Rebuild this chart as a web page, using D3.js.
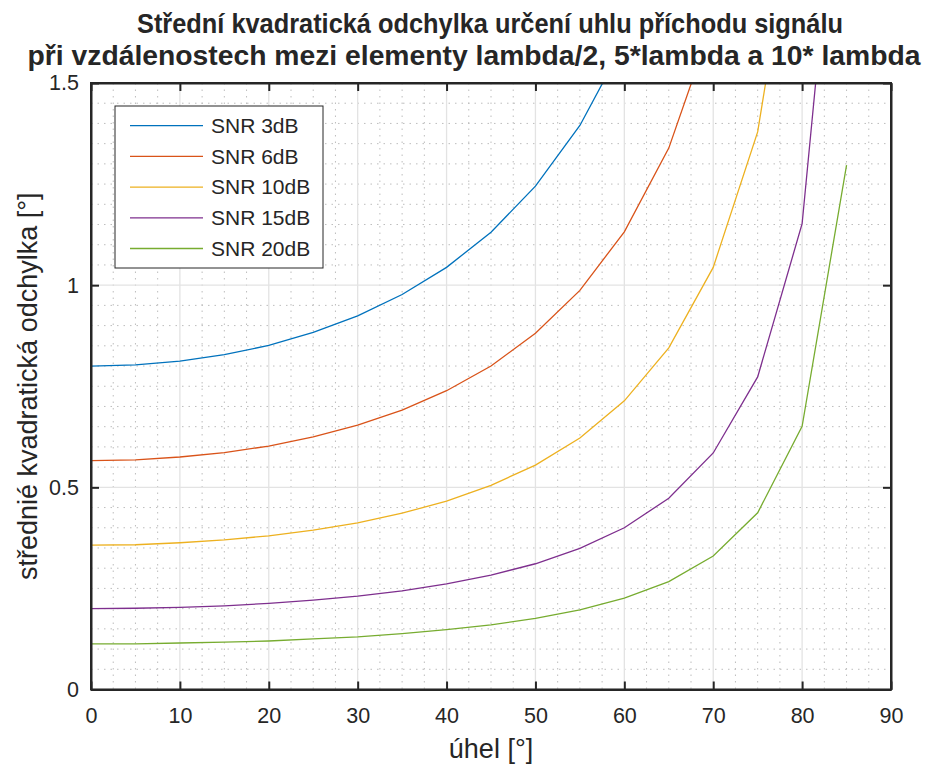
<!DOCTYPE html>
<html>
<head>
<meta charset="utf-8">
<script src="https://cdn.jsdelivr.net/npm/d3@7"></script>
<style>
body { margin: 0; background: #fff; }
text { font-family: "Liberation Sans", Arial, sans-serif; fill: #262626; }
</style>
</head>
<body>
<script>
// angles of arrival (deg)
var angles = [0, 5, 10, 15, 20, 25, 30, 35, 40, 45, 50, 55, 60, 65, 70, 75, 80, 85];

// RMS error (values above 1.5 are clipped, estimated)
var snr3  = [0.800, 0.803, 0.812, 0.828, 0.851, 0.883, 0.924, 0.977, 1.044, 1.131, 1.245, 1.395, 1.600, 1.893, 2.339, 3.091, 4.607, 9.179];
var snr6  = [0.566, 0.568, 0.575, 0.586, 0.602, 0.625, 0.654, 0.691, 0.739, 0.800, 0.881, 0.987, 1.132, 1.339, 1.655, 2.187, 3.259, 6.494];
var snr10 = [0.357, 0.358, 0.363, 0.370, 0.380, 0.394, 0.412, 0.436, 0.466, 0.505, 0.555, 0.622, 0.714, 0.845, 1.044, 1.379, 2.056, 4.096];
var snr15 = [0.200, 0.201, 0.203, 0.207, 0.213, 0.221, 0.231, 0.244, 0.261, 0.283, 0.311, 0.349, 0.400, 0.473, 0.585, 0.773, 1.152, 2.295];
var snr20 = [0.113, 0.113, 0.115, 0.117, 0.120, 0.125, 0.130, 0.138, 0.148, 0.160, 0.176, 0.197, 0.226, 0.267, 0.330, 0.437, 0.651, 1.297];

var seriesNames = ["SNR 3dB", "SNR 6dB", "SNR 10dB", "SNR 15dB", "SNR 20dB"];
var seriesColors = ["#0072BD", "#D95319", "#EDB120", "#7E2F8E", "#77AC30"];
var allSeries = [snr3, snr6, snr10, snr15, snr20];

var xTicks = [0, 10, 20, 30, 40, 50, 60, 70, 80, 90];
var yTicks = [0, 0.5, 1, 1.5];

//basic sizes
var W = 926, H = 769;
var margin = { top: 83, right: 35, bottom: 79.5, left: 91 };
var width = W - margin.left - margin.right,
    height = H - margin.top - margin.bottom;

var svg = d3.select("body").append("svg")
    .attr("width", W)
    .attr("height", H);

var g = svg.append("g")
    .attr("transform", "translate(" + margin.left + "," + margin.top + ")");

//scales
var x = d3.scaleLinear().domain([0, 90]).range([0, width]);
var y = d3.scaleLinear().domain([0, 1.5]).range([height, 0]);

//minor grid (dotted)
var xMinor = d3.range(0, 90.01, 2.5).filter(function(d) { return d % 10 !== 0; });
var yMinor = d3.range(0, 1.501, 0.05).filter(function(d) { return Math.abs(d * 2 - Math.round(d * 2)) > 1e-6; });

g.selectAll(".xminor").data(xMinor).enter().append("line")
    .attr("x1", function(d) { return x(d); }).attr("x2", function(d) { return x(d); })
    .attr("y1", 0).attr("y2", height)
    .attr("stroke", "#bdbdbd").attr("stroke-width", 1)
    .attr("stroke-dasharray", "1.5,5");

g.selectAll(".yminor").data(yMinor).enter().append("line")
    .attr("x1", 0).attr("x2", width)
    .attr("y1", function(d) { return y(d); }).attr("y2", function(d) { return y(d); })
    .attr("stroke", "#bdbdbd").attr("stroke-width", 1)
    .attr("stroke-dasharray", "1.5,5");

//major grid
g.selectAll(".xgrid").data(xTicks).enter().append("line")
    .attr("x1", function(d) { return x(d); }).attr("x2", function(d) { return x(d); })
    .attr("y1", 0).attr("y2", height)
    .attr("stroke", "#e3e3e3").attr("stroke-width", 1.3);

g.selectAll(".ygrid").data(yTicks).enter().append("line")
    .attr("x1", 0).attr("x2", width)
    .attr("y1", function(d) { return y(d); }).attr("y2", function(d) { return y(d); })
    .attr("stroke", "#e3e3e3").attr("stroke-width", 1.3);

//clip lines to the axes box
svg.append("defs").append("clipPath").attr("id", "clip")
    .append("rect").attr("width", width).attr("height", height);

var line = d3.line()
    .x(function(d, i) { return x(angles[i]); })
    .y(function(d) { return y(d); });

g.append("g").attr("clip-path", "url(#clip)")
  .selectAll("path").data(allSeries).enter().append("path")
    .attr("d", function(d) { return line(d); })
    .attr("fill", "none")
    .attr("stroke", function(d, i) { return seriesColors[i]; })
    .attr("stroke-width", 1.3);

//axes (ticks inside, box on all sides)
var axisColor = "#262626";
var xAxis = d3.axisBottom(x).tickValues(xTicks).tickSizeInner(-8).tickSizeOuter(0).tickPadding(18.5);
var yAxis = d3.axisLeft(y).tickValues(yTicks).tickSizeInner(-8).tickSizeOuter(0).tickPadding(12)
    .tickFormat(function(d) { return d; });

var gx = g.append("g").attr("transform", "translate(0," + height + ")").call(xAxis);
var gy = g.append("g").call(yAxis);
var gxt = g.append("g").call(d3.axisTop(x).tickValues(xTicks).tickSizeInner(-8).tickSizeOuter(0).tickFormat(""));
var gyr = g.append("g").attr("transform", "translate(" + width + ",0)")
    .call(d3.axisRight(y).tickValues(yTicks).tickSizeInner(-8).tickSizeOuter(0).tickFormat(""));

[gx, gy, gxt, gyr].forEach(function(a) {
  a.select(".domain").attr("stroke", axisColor).attr("stroke-width", 2);
  a.selectAll(".tick line").attr("stroke", axisColor).attr("stroke-width", 2);
  a.selectAll(".tick text").style("font-size", "21.5px").attr("fill", axisColor)
      .style("font-family", "'Liberation Sans', Arial, sans-serif");
});

//box corners
g.append("rect").attr("width", width).attr("height", height)
    .attr("fill", "none").attr("stroke", axisColor).attr("stroke-width", 2);

//title, two lines
svg.append("text")
    .attr("text-anchor", "middle")
    .attr("x", 490).attr("y", 33)
    .attr("textLength", 706).attr("lengthAdjust", "spacingAndGlyphs")
    .style("font-size", "27px").style("font-weight", "bold")
    .attr("fill", "#000")
    .text("Střední kvadratická odchylka určení uhlu příchodu signálu");
svg.append("text")
    .attr("text-anchor", "middle")
    .attr("x", 474).attr("y", 65)
    .attr("textLength", 893).attr("lengthAdjust", "spacingAndGlyphs")
    .style("font-size", "27px").style("font-weight", "bold")
    .attr("fill", "#000")
    .text("při vzdálenostech mezi elementy lambda/2, 5*lambda a 10* lambda");

//axis titles
svg.append("text")
    .attr("text-anchor", "middle")
    .attr("transform", "translate(" + (margin.left + width / 2) + ",758)")
    .style("font-size", "27px")
    .text("úhel [°]");

svg.append("text")
    .attr("text-anchor", "middle")
    .attr("transform", "translate(37," + (margin.top + height / 2) + ")rotate(-90)")
    .style("font-size", "27px")
    .text("střednié kvadratická odchylka [°]");

//legend
var legend = svg.append("g").attr("transform", "translate(115,106)");
legend.append("rect").attr("width", 208).attr("height", 162)
    .attr("fill", "#fff").attr("stroke", axisColor).attr("stroke-width", 1);

var rows = legend.selectAll(".row").data(seriesNames).enter().append("g")
    .attr("transform", function(d, i) { return "translate(0," + (19.7 + i * 30.7) + ")"; });
rows.append("line").attr("x1", 15).attr("x2", 88)
    .attr("stroke", function(d, i) { return seriesColors[i]; })
    .attr("stroke-width", 1.3);
rows.append("text").attr("x", 96).attr("dy", "0.35em")
    .style("font-size", "21px").attr("fill", "#000")
    .text(function(d) { return d; });
</script>
</body>
</html>
